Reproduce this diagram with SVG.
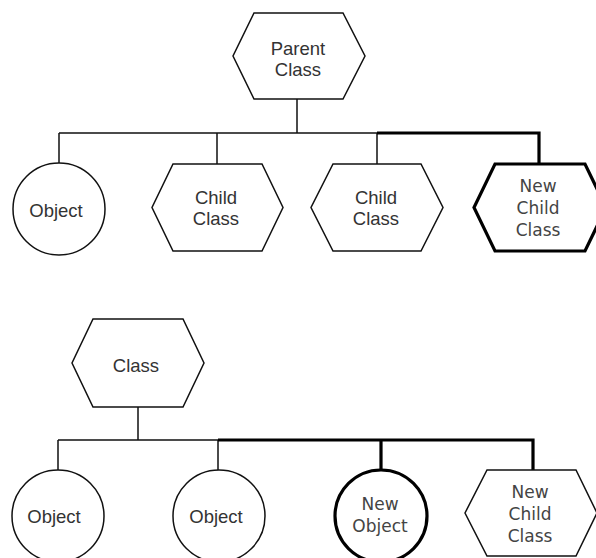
<svg xmlns="http://www.w3.org/2000/svg" width="596" height="558" viewBox="0 0 596 558">
<style>
.thin{fill:#fff;stroke:#111;stroke-width:1.5;stroke-linejoin:miter}
.thick{fill:#fff;stroke:#000;stroke-width:3.2;stroke-linejoin:miter}
.c{fill:none;stroke:#111;stroke-width:1.5}
.ct{fill:none;stroke:#000;stroke-width:3.2}
text{font-family:"Liberation Sans",Arial,sans-serif;font-size:18.5px;fill:#333;text-anchor:middle}
.g{font-family:"DejaVu Sans","Liberation Sans",sans-serif;font-size:17px;fill:#444}
</style>
<rect width="596" height="558" fill="#fff"/>
<g id="connectors">
<path class="c" d="M297,99 V133 M59,133 H378 M59,133 V163 M217,133 V164 M377,133 V164"/>
<path class="ct" d="M377,133 H539 V164"/>
<path class="c" d="M138,407 V440 M58,440 H220 M58,440 V470 M218,440 V470"/>
<path class="ct" d="M218,440 H533 V470 M381,440 V470"/>
</g>
<g id="parent-class">
<polygon class="thin" points="254,13 343,13 365,56 343,99 254,99 233,56"/>
<text x="298" y="55">Parent</text>
<text x="298" y="76">Class</text>
</g>
<g id="object-1">
<circle class="thin" cx="59" cy="209" r="46"/>
<text x="56" y="217">Object</text>
</g>
<g id="child-class-1">
<polygon class="thin" points="173,164 262,164 283,207.5 262,251 173,251 152,207.5"/>
<text x="216" y="204">Child</text>
<text x="216" y="225">Class</text>
</g>
<g id="child-class-2">
<polygon class="thin" points="333,164 421,164 443,207.5 421,251 333,251 311,207.5"/>
<text x="376" y="204">Child</text>
<text x="376" y="225">Class</text>
</g>
<g id="new-child-class-1">
<polygon class="thick" points="495,164 585,164 606,207.5 585,251 495,251 474,207.5"/>
<text class="g" x="538" y="192">New</text>
<text class="g" x="538" y="214">Child</text>
<text class="g" x="538" y="236">Class</text>
</g>
<g id="class">
<polygon class="thin" points="93,319 183,319 204,363 183,407 93,407 72,363"/>
<text x="136" y="372">Class</text>
</g>
<g id="object-2">
<circle class="thin" cx="58" cy="516" r="46"/>
<text x="54" y="523">Object</text>
</g>
<g id="object-3">
<circle class="thin" cx="219" cy="516" r="46"/>
<text x="216" y="523">Object</text>
</g>
<g id="new-object">
<circle class="thick" cx="381" cy="516" r="46"/>
<text class="g" x="380" y="510">New</text>
<text class="g" x="380" y="532">Object</text>
</g>
<g id="new-child-class-2">
<polygon class="thin" points="487,470 576,470 597,513 576,556 487,556 465,513"/>
<text class="g" x="530" y="498">New</text>
<text class="g" x="530" y="520">Child</text>
<text class="g" x="530" y="542">Class</text>
</g>
</svg>
